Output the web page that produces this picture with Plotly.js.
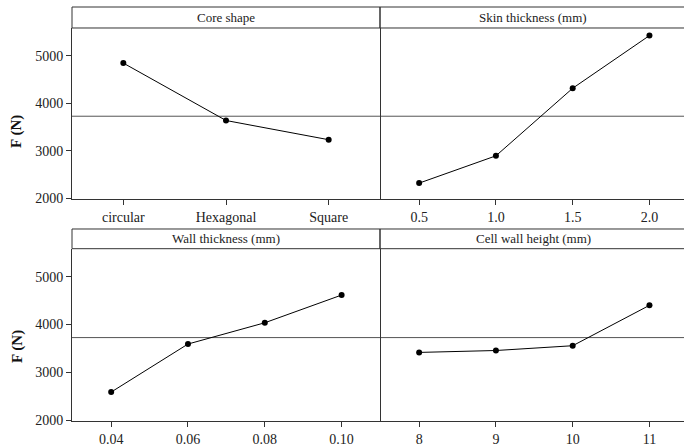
<!DOCTYPE html>
<html>
<head>
<meta charset="utf-8">
<script src="https://cdn.plot.ly/plotly-3.0.1.min.js"></script>
<style>
  html, body { margin: 0; padding: 0; background: #fff; }
  #chart { width: 684px; height: 446px; }
</style>
</head>
<body>
<div id="chart"></div>
<script>
// ---- data ----
const coreLabels = ['circular', 'Hexagonal', 'Square'];
const coreF = [4845, 3635, 3230];
const skinLabels = ['0.5', '1.0', '1.5', '2.0'];
const skinF = [2315, 2890, 4315, 5425];
const wallLabels = ['0.04', '0.06', '0.08', '0.10'];
const wallF = [2585, 3590, 4035, 4615];
const cellLabels = ['8', '9', '10', '11'];
const cellF = [3415, 3455, 3555, 4400];
const meanF = 3725;
const panelTitles = ['Core shape', 'Skin thickness (mm)', 'Wall thickness (mm)', 'Cell wall height (mm)'];
const yTitle = 'F (N)';
const yTicks = [2000, 3000, 4000, 5000];

const FONT = 'Liberation Serif, Times New Roman, serif';
const LINE = '#333';

function trace(xs, ys, xa, ya) {
  return {
    x: xs, y: ys, xaxis: xa, yaxis: ya, type: 'scatter', mode: 'lines+markers',
    line: {color: '#000', width: 1},
    marker: {color: '#000', size: 6},
    hoverinfo: 'skip', showlegend: false
  };
}

const data = [
  trace(coreLabels, coreF, 'x', 'y'),
  trace(skinLabels, skinF, 'x2', 'y2'),
  trace(wallLabels, wallF, 'x3', 'y3'),
  trace(cellLabels, cellF, 'x4', 'y4')
];

const xL = [0, 0.50327], xR = [0.50327, 1];
const yT = [0.5362, 0.9493], yB = [0, 0.4162];
const yRange = [1980, 5585];

function xax(dom, anchor, range) {
  return {
    domain: dom, anchor: anchor, type: 'category', range: range,
    showline: true, linecolor: LINE, linewidth: 1, mirror: false,
    ticks: 'outside', ticklen: 5, tickcolor: LINE, showgrid: false, zeroline: false,
    tickfont: {family: FONT, size: 14, color: '#222'}, fixedrange: true
  };
}
function yax(dom, anchor, isLeft) {
  return {
    domain: dom, anchor: anchor, range: yRange, tickvals: yTicks,
    showline: isLeft, linecolor: LINE, linewidth: 1, mirror: isLeft,
    ticks: isLeft ? 'outside' : '', ticklen: 5, tickcolor: LINE,
    showticklabels: isLeft, showgrid: false, zeroline: false,
    tickfont: {family: FONT, size: 14, color: '#222'}, fixedrange: true
  };
}

const shapes = [];
// strips
const strips = [
  [xL[0], xL[1], yT[1], 1.0],
  [xR[0], 1.02, yT[1], 1.0],
  [xL[0], xL[1], yB[1], 0.4638],
  [xR[0], 1.02, yB[1], 0.4638]
];
strips.forEach(s => shapes.push({
  type: 'rect', xref: 'paper', yref: 'paper', x0: s[0], x1: s[1], y0: s[2], y1: s[3],
  line: {color: LINE, width: 1}, fillcolor: 'rgba(0,0,0,0)', layer: 'above'
}));
// mean reference lines
[['x', 'y'], ['x2', 'y2'], ['x3', 'y3'], ['x4', 'y4']].forEach(p => shapes.push({
  type: 'line', xref: p[0] + ' domain', yref: p[1], x0: 0, x1: 1, y0: meanF, y1: meanF,
  line: {color: '#555', width: 1}, layer: 'below'
}));

const annotations = [];
const titlePos = [[0.2516, 0.9746], [0.7533, 0.9746], [0.2516, 0.4399], [0.7533, 0.4399]];
panelTitles.forEach((t, i) => annotations.push({
  text: t, xref: 'paper', yref: 'paper', x: titlePos[i][0], y: titlePos[i][1],
  xanchor: 'center', yanchor: 'middle', showarrow: false,
  font: {family: FONT, size: 13, color: '#222'}
}));
[0.7005, 0.181].forEach(yy => annotations.push({
  text: '<b>' + yTitle + '</b>', xref: 'paper', yref: 'paper', x: -0.0899, y: yy,
  xanchor: 'center', yanchor: 'middle', textangle: -90, showarrow: false,
  font: {family: FONT, size: 15, color: '#111'}
}));

const layout = {
  width: 684, height: 446,
  margin: {l: 72, r: 0, t: 7, b: 25, pad: 0},
  paper_bgcolor: '#fff', plot_bgcolor: '#fff',
  showlegend: false,
  xaxis: xax(xL, 'y', [-0.5, 2.5]),
  yaxis: yax(yT, 'x', true),
  xaxis2: xax(xR, 'y2', [-0.51, 3.45]),
  yaxis2: yax(yT, 'x2', false),
  xaxis3: xax(xL, 'y3', [-0.51, 3.5]),
  yaxis3: yax(yB, 'x3', true),
  xaxis4: xax(xR, 'y4', [-0.51, 3.45]),
  yaxis4: yax(yB, 'x4', false),
  shapes: shapes,
  annotations: annotations
};

Plotly.newPlot('chart', data, layout, {displayModeBar: false, staticPlot: true});
</script>
</body>
</html>
